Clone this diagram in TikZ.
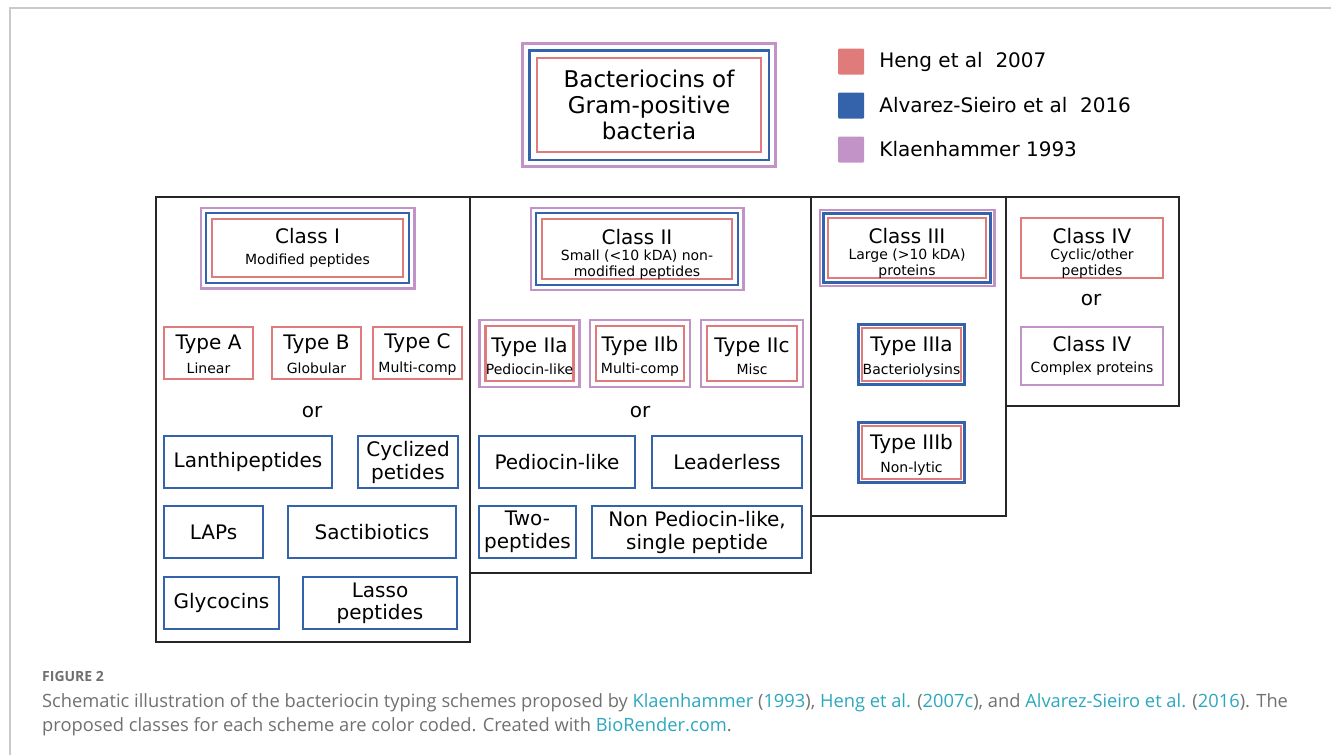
\documentclass[tikz,border=0pt]{standalone}
\usepackage{fontspec}
\setmainfont{DejaVu Sans}
\newfontfamily\capfont{Open Sans}
\usetikzlibrary{positioning}
\usetikzlibrary{fit}

\definecolor{hengred}{HTML}{E07B7B}
\definecolor{alvblue}{HTML}{3463AB}
\definecolor{klapurple}{HTML}{C193C7}
\definecolor{framegray}{HTML}{CACACA}
\definecolor{capgray}{HTML}{707070}
\definecolor{linkcyan}{HTML}{2BA8BE}

\newcommand{\titletxt}{\fontsize{23}{26}\selectfont}
\newcommand{\bigtxt}{\fontsize{20}{22}\selectfont}
\newcommand{\smalltxt}{\fontsize{14}{16}\selectfont}
\newcommand{\lnk}[1]{\textcolor{linkcyan}{#1}}
\newcommand{\up}[1]{\rule{0pt}{#1}}% taller first line pushes text down

\tikzset{
  box/.style={rectangle, line width=2.6pt, align=center, inner sep=0pt, font=\bigtxt},
  hengbox/.style={box, draw=hengred},
  alvbox/.style={box, draw=alvblue},
  klabox/.style={box, draw=klapurple},
  ring/.style={rectangle, line width=2.6pt, inner sep=#1},
  column/.style={draw=black!85, line width=2pt},
  legsq/.style={rectangle, minimum size=26pt, inner sep=0pt, rounded corners=1pt},
  legtxt/.style={font=\bigtxt, inner sep=0pt, anchor=west},
  ortxt/.style={font=\bigtxt, inner sep=0pt},
  captxt/.style={font=\capfont\fontsize{18.3}{24}\selectfont, text=capgray, inner sep=0pt}
}

\begin{document}
\begin{tikzpicture}[x=1pt, y=-1pt]
\useasboundingbox (0,0) rectangle (1331,755);
\draw[framegray, line width=1.5pt] (1331,8) -- (10,8) -- (10,755);

% title box and legend
\node[hengbox, font=\titletxt, minimum width=224pt, minimum height=94pt] (top) at (649,105) {Bacteriocins of\\Gram-positive\\bacteria};
\node[ring=6.5pt, draw=alvblue, fit=(top)] (topb) {};
\node[ring=5.5pt, draw=klapurple, fit=(topb)] (topp) {};

\node[legsq, fill=hengred] (lheng) at (851,61.5) {};
\node[legsq, fill=alvblue] (lalv) at (851,105.5) {};
\node[legsq, fill=klapurple] (lkla) at (851,149.5) {};
\node[legtxt, right=15pt of lheng] (theng) {Heng et al\ \ 2007};
\node[legtxt, right=15pt of lalv] (talv) {Alvarez-Sieiro et al\ \ 2016};
\node[legtxt, right=15pt of lkla] (tkla) {Klaenhammer 1993};

% columns
\draw[column] (156,197) rectangle (470,642);
\draw[column] (470,197) rectangle (811,573);
\draw[column] (811,197) rectangle (1006,516);
\draw[column] (1006,197) rectangle (1179,406);

% class I
\node[hengbox, minimum width=191pt, minimum height=58pt] (c1) at (307.5,248) {Class I\\[-1pt]{\smalltxt Modified peptides}};
\node[ring=4.8pt, draw=alvblue, fit=(c1)] (c1b) {};
\node[ring=3.8pt, draw=klapurple, fit=(c1b)] (c1p) {};
\node[hengbox, minimum width=89pt, minimum height=52pt] (tA) at (208.5,353) {\up{18pt}Type A\\[2pt]{\smalltxt Linear}};
\node[hengbox, minimum width=89pt, minimum height=52pt] (tB) at (316.5,353) {\up{18pt}Type B\\[2pt]{\smalltxt Globular}};
\node[hengbox, minimum width=89pt, minimum height=52pt] (tC) at (417.5,353) {\up{18pt}Type C\\[2pt]{\smalltxt Multi-comp}};
\node[ortxt] (or1) at (312,412) {or};
\node[alvbox, minimum width=168pt, minimum height=52pt] (lanthi) at (248,462) {Lanthipeptides};
\node[alvbox, minimum width=100pt, minimum height=52pt] (cycl) at (408,462) {Cyclized\\[1pt]petides};
\node[alvbox, minimum width=99pt, minimum height=52pt] (laps) at (213.5,532) {LAPs};
\node[alvbox, minimum width=168pt, minimum height=52pt] (sacti) at (372,532) {Sactibiotics};
\node[alvbox, minimum width=115pt, minimum height=52pt] (glyco) at (221.5,603) {Glycocins};
\node[alvbox, minimum width=154pt, minimum height=52pt] (lasso) at (380,603) {Lasso\\[0pt]peptides};

% class II
\node[hengbox, minimum width=190pt, minimum height=58pt] (c2) at (637,249) {\up{25pt}Class II\\[-6pt]{\smalltxt Small (<10 kDA) non-}\\[-6pt]{\smalltxt modified peptides}};
\node[ring=4.8pt, draw=alvblue, fit=(c2)] (c2b) {};
\node[ring=3.8pt, draw=klapurple, fit=(c2b)] (c2p) {};
\node[hengbox, minimum width=87pt, minimum height=55pt] (t2a) at (529.5,353.5) {\up{21pt}Type IIa\\[0pt]{\smalltxt Pediocin-like}};
\node[hengbox, minimum width=88pt, minimum height=55pt] (t2b) at (640,353.5) {\up{21pt}Type IIb\\[0pt]{\smalltxt Multi-comp}};
\node[hengbox, minimum width=90pt, minimum height=55pt] (t2c) at (752,353.5) {\up{21pt}Type IIc\\[0pt]{\smalltxt Misc}};
\node[ring=4.8pt, draw=klapurple, fit=(t2a)] (t2ap) {};
\node[ring=4.8pt, draw=klapurple, fit=(t2b)] (t2bp) {};
\node[ring=4.8pt, draw=klapurple, fit=(t2c)] (t2cp) {};
\node[ortxt] (or2) at (640,412) {or};
\node[alvbox, minimum width=156pt, minimum height=52pt] (pedio) at (557,462) {Pediocin-like};
\node[alvbox, minimum width=150pt, minimum height=52pt] (leader) at (727,462) {Leaderless};
\node[alvbox, minimum width=97pt, minimum height=52pt] (twopep) at (527.5,532) {Two-\\[1pt]peptides};
\node[alvbox, minimum width=210pt, minimum height=52pt] (nonpedio) at (697,532) {Non Pediocin-like,\\[1pt]single peptide};

% class III
\node[hengbox, minimum width=158pt, minimum height=58pt] (c3) at (907,248) {\up{25pt}Class III\\[-6pt]{\smalltxt Large (>10 kDA)}\\[-6pt]{\smalltxt proteins}};
\node[ring=3pt, draw=alvblue, fit=(c3)] (c3b) {};
\node[ring=2.6pt, draw=klapurple, fit=(c3b)] (c3p) {};
\node[hengbox, minimum width=99pt, minimum height=53pt] (t3a) at (911.5,354.5) {\up{19pt}Type IIIa\\[1pt]{\smalltxt Bacteriolysins}};
\node[ring=2.2pt, draw=alvblue, fit=(t3a)] (t3ab) {};
\node[hengbox, minimum width=99pt, minimum height=53pt] (t3b) at (911.5,452.5) {\up{19pt}Type IIIb\\[1pt]{\smalltxt Non-lytic}};
\node[ring=2.2pt, draw=alvblue, fit=(t3b)] (t3bb) {};

% class IV
\node[hengbox, minimum width=142pt, minimum height=58pt] (c4h) at (1092,248) {\up{25pt}Class IV\\[-6pt]{\smalltxt Cyclic/other}\\[-6pt]{\smalltxt peptides}};
\node[ortxt] (or4) at (1091,300) {or};
\node[klabox, minimum width=142pt, minimum height=58pt] (c4k) at (1092,356) {Class IV\\[-1pt]{\smalltxt Complex proteins}};

% caption
\node[captxt, anchor=west, font=\capfont\bfseries\fontsize{14}{16}\selectfont] (figlab) at (42,676) {FIGURE 2};
\node[captxt, anchor=north west, align=left] (cap) at (42,693) {Schematic illustration of the bacteriocin typing schemes proposed by \lnk{Klaenhammer} (\lnk{1993}), \lnk{Heng et al.} (\lnk{2007c}), and \lnk{Alvarez-Sieiro et al.} (\lnk{2016}). The\\proposed classes for each scheme are color coded. Created with \lnk{BioRender.com}.};
\end{tikzpicture}
\end{document}
